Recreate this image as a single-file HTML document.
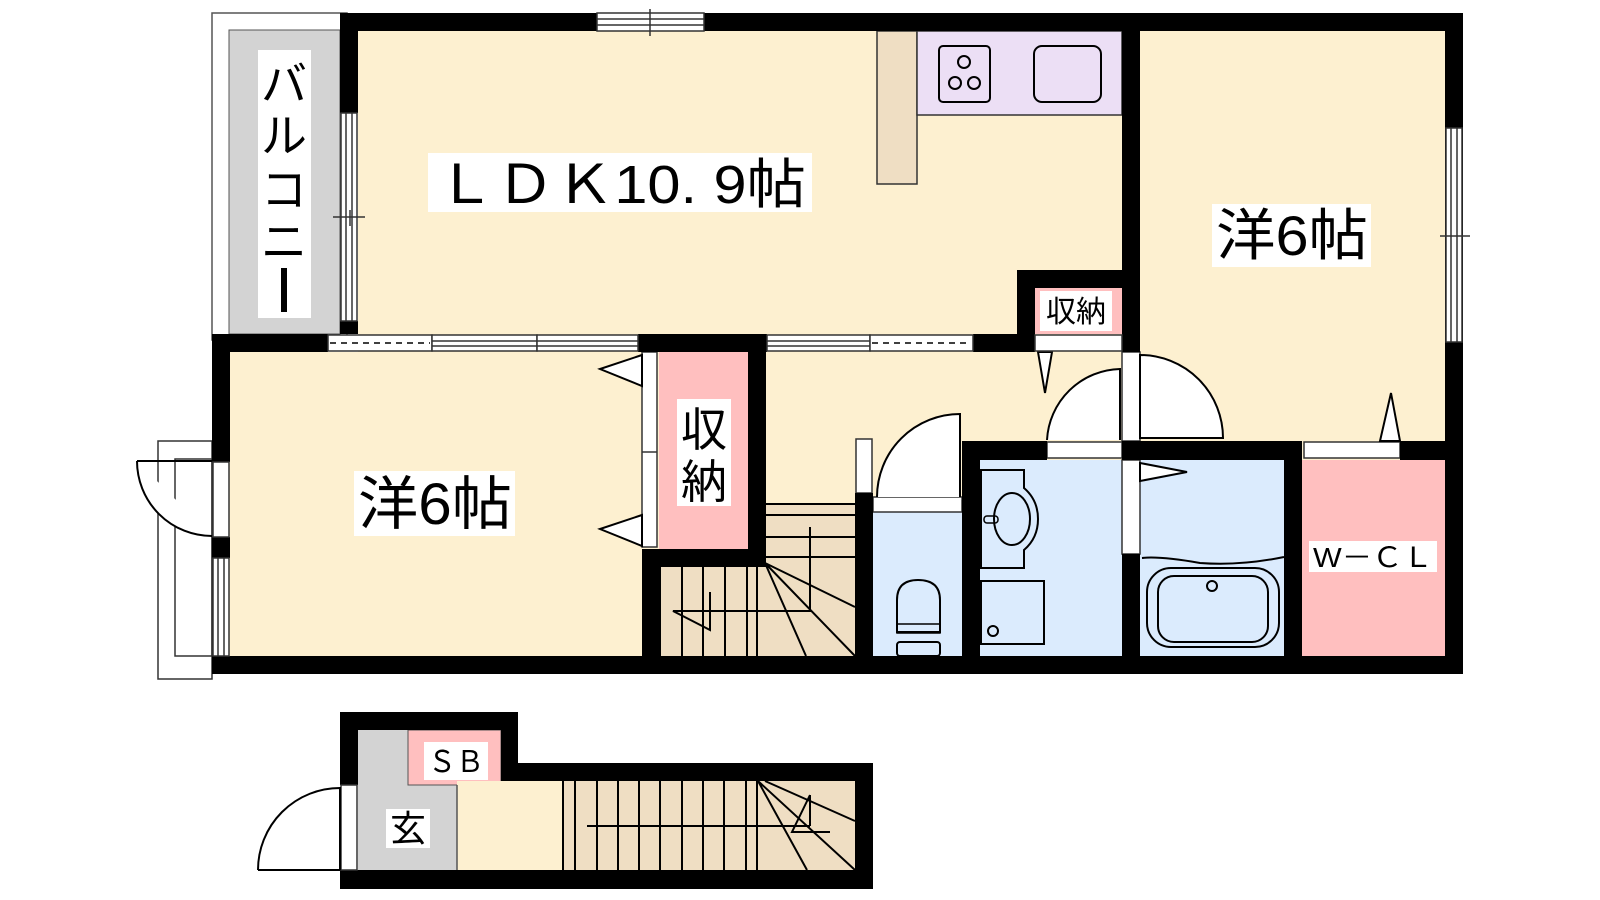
<!DOCTYPE html>
<html><head><meta charset="utf-8"><style>html,body{margin:0;padding:0;background:#fff}svg{display:block}text{font-family:"Liberation Sans","Noto Sans CJK JP",sans-serif;fill:#000}</style></head><body>
<svg width="1600" height="900" viewBox="0 0 1600 900" xmlns="http://www.w3.org/2000/svg">
<rect width="1600" height="900" fill="#fff"/>
<!-- balcony -->
<rect x="212" y="13" width="135" height="327" fill="#fff" stroke="#555" stroke-width="1.5"/>
<rect x="229" y="30" width="111" height="304" fill="#d3d3d3" stroke="#555" stroke-width="1"/>
<!-- main floor fill -->
<rect x="358" y="31" width="1087" height="321" fill="#fdf0d0"/>
<rect x="212" y="352" width="1233" height="304" fill="#fdf0d0"/>
<!-- left door exterior frames -->
<rect x="158" y="441" width="54" height="238" fill="none" stroke="#333" stroke-width="1.5"/>
<rect x="175" y="459" width="37" height="197" fill="none" stroke="#333" stroke-width="1.5"/>
<path d="M137 461 L212 461 M137 461 A75 75 0 0 0 212 536" fill="#fff" stroke="#000" stroke-width="2"/>
<!-- LDK area top -->
<rect x="877" y="31" width="40" height="153" fill="#efdec3" stroke="#333" stroke-width="1.5"/>
<rect x="917" y="31" width="205" height="84" fill="#ecdff5" stroke="#333" stroke-width="1.5"/>
<rect x="939" y="46" width="51" height="56" rx="4" fill="none" stroke="#000" stroke-width="2"/>
<g fill="none" stroke="#000" stroke-width="2"><circle cx="964" cy="62" r="6"/><circle cx="955" cy="83" r="6"/><circle cx="974" cy="83" r="6"/></g>
<rect x="1034" y="46" width="67" height="56" rx="8" fill="none" stroke="#000" stroke-width="2"/>
<!-- small closet -->
<rect x="1035" y="288" width="87" height="46" fill="#ffbfbf"/>
<rect x="1017" y="270" width="123" height="18" fill="#000"/>
<rect x="1017" y="270" width="18" height="82" fill="#000"/>
<!-- left closet -->
<rect x="659" y="352" width="89" height="197" fill="#ffbfbf"/>
<!-- stairs upper -->
<path d="M766 504 H855 V656 H659 V567 H766 Z" fill="#efdec3"/>
<g stroke="#000" stroke-width="2" fill="none">
<path d="M766 504H855M766 515H855M766 537H855M766 557H855"/>
<path d="M660 567V656M682 567V656M703 567V656M725 567V656M747 567V656M757 567V656"/>
<path d="M765 563L806 656M765 563L855 656M765 563L855 607"/>
<path d="M810 527V611H673L710 630V592"/>
</g>
<!-- toilet -->
<rect x="873" y="512" width="89" height="144" fill="#dbebfd"/>
<rect x="873" y="497" width="89" height="15" fill="#fff" stroke="#333" stroke-width="1.5"/>
<path d="M877 497 A83 83 0 0 1 960 414 V497" fill="#fff" stroke="#000" stroke-width="2"/>
<rect x="856" y="439" width="16" height="54" fill="#fff" stroke="#333" stroke-width="1.5"/>
<path d="M897 632 V600 Q897 580 918 580 Q940 580 940 600 V632 Z" fill="none" stroke="#000" stroke-width="2"/>
<rect x="897" y="624" width="43" height="9" fill="none" stroke="#000" stroke-width="1.5"/>
<rect x="897" y="642" width="43" height="14" rx="3" fill="none" stroke="#000" stroke-width="2"/>
<!-- washroom -->
<rect x="980" y="460" width="142" height="196" fill="#dbebfd"/>
<path d="M981 470H1024V488Q1038 500 1038 519Q1038 538 1024 550V568H981Z" fill="none" stroke="#000" stroke-width="2"/>
<ellipse cx="1012" cy="519" rx="18" ry="26" fill="none" stroke="#000" stroke-width="2"/>
<rect x="984" y="516" width="14" height="7" rx="3" fill="none" stroke="#000" stroke-width="1.5"/>
<rect x="981" y="581" width="63" height="63" fill="none" stroke="#000" stroke-width="2"/>
<circle cx="993" cy="631" r="5" fill="none" stroke="#000" stroke-width="2"/>
<rect x="1047" y="442" width="75" height="16" fill="#fff" stroke="#333" stroke-width="1.5"/>
<path d="M1047 440 A75 75 0 0 1 1120 369 V440" fill="#fff" stroke="#000" stroke-width="2"/>
<!-- bath -->
<rect x="1140" y="460" width="144" height="196" fill="#dbebfd"/>
<path d="M1142 558 Q1160 556 1200 563 Q1240 566 1284 557" fill="none" stroke="#000" stroke-width="2"/>
<rect x="1147" y="568" width="132" height="79" rx="24" fill="none" stroke="#000" stroke-width="2"/>
<rect x="1158" y="576" width="110" height="66" rx="16" fill="none" stroke="#000" stroke-width="2"/>
<circle cx="1212" cy="586" r="5" fill="none" stroke="#000" stroke-width="2"/>
<rect x="1122" y="460" width="18" height="94" fill="#fff" stroke="#333" stroke-width="1.5"/>
<path d="M1140 463 L1187 472 L1140 481Z" fill="#fff" stroke="#000" stroke-width="2"/>
<!-- right room door -->
<rect x="1122" y="352" width="18" height="89" fill="#fff" stroke="#333" stroke-width="1.5"/>
<path d="M1140 355 A83 83 0 0 1 1223 438 H1140Z" fill="#fff" stroke="#000" stroke-width="2"/>
<!-- WCL -->
<rect x="1302" y="460" width="143" height="196" fill="#ffbfbf"/>
<rect x="1304" y="442" width="96" height="16" fill="#fff" stroke="#333" stroke-width="1.5"/>
<path d="M1380 441 L1391 393 L1400 441Z" fill="#fff" stroke="#000" stroke-width="2"/>
<!-- hallway arrow -->
<path d="M1038 352 L1045 393 L1052 352Z" fill="#fff" stroke="#000" stroke-width="2"/>
<!-- left closet doors -->
<rect x="642" y="352" width="15" height="195" fill="#fff" stroke="#333" stroke-width="1.5"/>
<line x1="642" y1="452" x2="657" y2="452" stroke="#333" stroke-width="1.5"/>
<path d="M642 355 L600 369 L642 386Z M642 515 L600 529 L642 546Z" fill="#fff" stroke="#000" stroke-width="2"/>
<!-- WALLS -->
<g fill="#000">
<rect x="340" y="13" width="1123" height="18"/>
<rect x="1445" y="13" width="18" height="661"/>
<rect x="212" y="656" width="1251" height="18"/>
<rect x="340" y="13" width="18" height="100"/>
<rect x="340" y="321" width="18" height="13"/>
<rect x="212" y="334" width="116" height="18"/>
<rect x="212" y="334" width="18" height="128"/>
<rect x="212" y="537" width="18" height="21"/>
<rect x="638" y="334" width="129" height="18"/>
<rect x="973" y="334" width="62" height="18"/>
<rect x="1122" y="13" width="18" height="339"/>
<rect x="748" y="334" width="18" height="233"/>
<rect x="642" y="549" width="124" height="18"/>
<rect x="642" y="549" width="17" height="107"/>
<rect x="855" y="493" width="18" height="163"/>
<rect x="962" y="441" width="18" height="215"/>
<rect x="962" y="441" width="85" height="19"/>
<rect x="1122" y="441" width="180" height="19"/>
<rect x="1122" y="554" width="18" height="102"/>
<rect x="1284" y="441" width="18" height="215"/>
<rect x="1400" y="441" width="45" height="19"/>
</g>
<!-- windows -->
<g fill="#fff" stroke="#333" stroke-width="1.5">
<rect x="597" y="13" width="107" height="18"/><line x1="597" y1="19" x2="704" y2="19"/><line x1="597" y1="25" x2="704" y2="25"/><line x1="650" y1="9" x2="650" y2="36"/>
<rect x="341" y="113" width="16" height="208"/><line x1="346" y1="113" x2="346" y2="321"/><line x1="352" y1="113" x2="352" y2="321"/><line x1="333" y1="217" x2="365" y2="217"/><line x1="350" y1="210" x2="350" y2="226"/>
<rect x="1446" y="128" width="16" height="214"/><line x1="1451" y1="128" x2="1451" y2="342"/><line x1="1457" y1="128" x2="1457" y2="342"/><line x1="1440" y1="236" x2="1470" y2="236"/>
<rect x="213" y="558" width="16" height="98"/><line x1="218" y1="558" x2="218" y2="656"/><line x1="224" y1="558" x2="224" y2="656"/>
<rect x="213" y="462" width="16" height="75"/>
<rect x="328" y="335" width="104" height="16"/><rect x="432" y="335" width="105" height="16"/><rect x="537" y="335" width="101" height="16"/>
<line x1="432" y1="341" x2="638" y2="341"/><line x1="432" y1="346" x2="638" y2="346"/>
<rect x="767" y="335" width="103" height="16"/><rect x="870" y="335" width="103" height="16"/>
<line x1="767" y1="341" x2="870" y2="341"/><line x1="767" y1="346" x2="870" y2="346"/>
<rect x="1035" y="335" width="87" height="16"/>
</g>
<g stroke="#000" stroke-width="1.5" stroke-dasharray="6 5"><line x1="330" y1="343" x2="430" y2="343"/><line x1="872" y1="343" x2="971" y2="343"/></g>
<!-- labels -->
<rect x="258" y="50" width="53" height="268" fill="#fff"/>
<g font-size="46" text-anchor="middle"><text x="284" y="100">バ</text><text x="284" y="152">ル</text><text x="284" y="206">コ</text><text x="284" y="258">ニ</text></g>
<rect x="281" y="268" width="6" height="44" fill="#000"/>
<rect x="428" y="153" width="384" height="59" fill="#fff"/>
<text x="436" y="203" font-size="54" textLength="370" lengthAdjust="spacingAndGlyphs">ＬＤＫ10. 9帖</text>
<rect x="1212" y="204" width="159" height="63" fill="#fff"/>
<text x="1216" y="255" font-size="56" textLength="152" lengthAdjust="spacingAndGlyphs">洋6帖</text>
<rect x="354" y="471" width="161" height="65" fill="#fff"/>
<text x="358" y="524" font-size="58" textLength="154" lengthAdjust="spacingAndGlyphs">洋6帖</text>
<rect x="677" y="399" width="54" height="107" fill="#fff"/>
<text x="704" y="446" font-size="46" text-anchor="middle">収</text><text x="704" y="498" font-size="46" text-anchor="middle">納</text>
<rect x="1040" y="291" width="72" height="40" fill="#fff"/>
<text x="1076" y="322" font-size="30" text-anchor="middle">収納</text>
<rect x="1309" y="541" width="128" height="31" fill="#fff"/>
<text x="1313" y="567" font-size="28" textLength="120" lengthAdjust="spacingAndGlyphs">W－ＣＬ</text>
<!-- bottom section -->
<rect x="358" y="730" width="99" height="140" fill="#d3d3d3"/>
<rect x="408" y="730" width="93" height="55" fill="#ffbfbf" stroke="#555" stroke-width="1"/>
<rect x="457" y="781" width="106" height="89" fill="#fdf0d0"/>
<line x1="457" y1="785" x2="457" y2="870" stroke="#555" stroke-width="1.5"/>
<rect x="563" y="781" width="292" height="89" fill="#efdec3"/>
<g stroke="#000" stroke-width="2" fill="none">
<path d="M563 781V870M575 781V870M597 781V870M618 781V870M639 781V870M660 781V870M682 781V870M703 781V870M724 781V870M746 781V870M757 781V870"/>
<path d="M587 826H810M758 781L807 870M758 781L855 870M765 781L855 821"/>
<path d="M810 795V826M810 795L792 832H830"/>
</g>
<g fill="#000">
<rect x="340" y="712" width="178" height="18"/>
<rect x="501" y="712" width="17" height="69"/>
<rect x="501" y="763" width="372" height="18"/>
<rect x="855" y="763" width="18" height="126"/>
<rect x="340" y="870" width="533" height="19"/>
<rect x="340" y="712" width="18" height="73"/>
</g>
<rect x="341" y="785" width="16" height="85" fill="#fff" stroke="#333" stroke-width="1.5"/>
<path d="M258 870 A82 82 0 0 1 340 788 V870" fill="#fff" stroke="#000" stroke-width="2"/>
<line x1="258" y1="870" x2="340" y2="870" stroke="#000" stroke-width="2"/>
<rect x="424" y="742" width="64" height="38" fill="#fff"/>
<text x="428" y="772" font-size="30" textLength="56" lengthAdjust="spacingAndGlyphs">ＳＢ</text>
<rect x="386" y="809" width="44" height="39" fill="#fff"/>
<text x="408" y="841" font-size="36" text-anchor="middle">玄</text>
</svg>
</body></html>
